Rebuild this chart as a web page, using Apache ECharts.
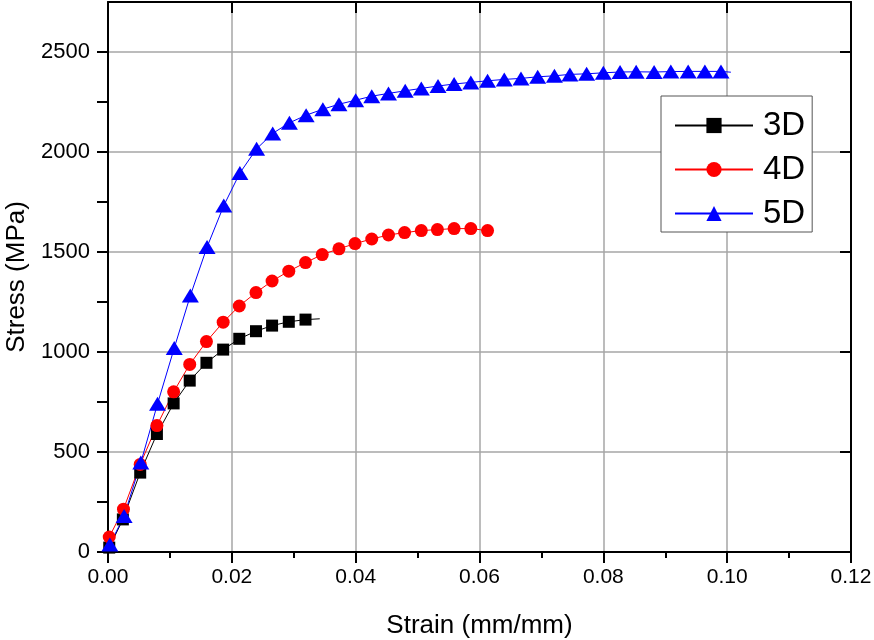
<!DOCTYPE html>
<html>
<head>
<meta charset="utf-8">
<script src="https://cdn.jsdelivr.net/npm/echarts@6/dist/echarts.min.js"></script>
<style>
html,body{margin:0;padding:0;background:#fff;}
#chart{width:874px;height:640px;}
</style>
</head>
<body>
<div id="chart"></div>
<script>
// ---- data ----
const seriesNames = ['3D', '4D', '5D'];

const strain3D = [0.0002, 0.0024, 0.0052, 0.0079, 0.0106, 0.0132, 0.0159, 0.0186, 0.0212, 0.0239, 0.0265, 0.0292, 0.0319, 0.0342];
const stress3D = [22, 163, 397, 590, 743, 857, 946, 1012, 1066, 1104, 1132, 1151, 1162, 1166];
const markerless3D = [13]; // line end without marker

const strain4D = [0.0002, 0.0025, 0.0052, 0.0079, 0.0106, 0.0132, 0.0159, 0.0186, 0.0212, 0.0239, 0.0265, 0.0292, 0.0319, 0.0346, 0.0373, 0.0399, 0.0426, 0.0453, 0.0479, 0.0506, 0.0532, 0.0559, 0.0586, 0.0613];
const stress4D = [75, 214, 438, 632, 801, 938, 1052, 1149, 1230, 1297, 1355, 1404, 1447, 1487, 1516, 1542, 1565, 1585, 1597, 1607, 1612, 1617, 1617, 1607];

const strain5D = [0.0003, 0.0026, 0.0053, 0.0080, 0.0107, 0.0133, 0.0160, 0.0187, 0.0213, 0.0240, 0.0266, 0.0293, 0.0320, 0.0347, 0.0373, 0.0400,
                  0.0426, 0.0453, 0.0480, 0.0506, 0.0533, 0.0559, 0.0586, 0.0613, 0.0640, 0.0667, 0.0694, 0.0721, 0.0746, 0.0773, 0.0800, 0.0827, 0.0853,
                  0.0882, 0.0909, 0.0937, 0.0964, 0.0990, 0.1006];
const stress5D = [38, 180, 447, 741, 1020, 1282, 1525, 1732, 1895, 2016, 2093, 2146, 2184, 2214, 2239, 2259,
                  2279, 2293, 2306, 2318, 2330, 2340, 2348, 2356, 2363, 2368, 2376, 2381, 2388, 2391, 2396, 2400, 2401,
                  2400, 2402, 2403, 2403, 2403, 2399];
const markerless5D = [38];

const xMin = 0, xMax = 0.12, xStep = 0.02;
const yMin = 0, yMax = 2750, yStep = 500, yMinorStep = 250;

const axisTitleX = 'Strain (mm/mm)';
const axisTitleY = 'Stress (MPa)';

// ---- build ----
function pairs(xs, ys, noMarker) {
  return xs.map((x, i) => noMarker && noMarker.indexOf(i) >= 0
    ? { value: [x, ys[i]], symbol: 'none' }
    : [x, ys[i]]);
}

const FONT = "'Liberation Sans', Arial, sans-serif";
const chart = echarts.init(document.getElementById('chart'), null, { renderer: 'canvas' });

const option = {
  animation: false,
  backgroundColor: '#ffffff',
  grid: { left: 108, right: 23, top: 2, bottom: 88, containLabel: false, outerBoundsMode: 'none' },
  legend: {
    orient: 'vertical',
    left: 661, top: 96,
    padding: [13, 7, 2, 13],
    itemGap: 11,
    itemWidth: 78,
    itemHeight: 19,
    borderColor: '#555',
    borderWidth: 1,
    backgroundColor: '#fff',
    textStyle: { fontFamily: FONT, fontSize: 33, color: '#000', lineHeight: 28, padding: [0, 0, 0, 5] },
    data: seriesNames
  },
  xAxis: [{
    type: 'value', min: xMin, max: xMax, interval: xStep,
    position: 'bottom',
    axisLine: { show: true, onZero: false, lineStyle: { color: '#000', width: 2 } },
    axisTick: { show: true, inside: false, length: 11, lineStyle: { color: '#000', width: 2 } },
    minorTick: { show: true, splitNumber: 2, length: 6, lineStyle: { color: '#000', width: 2 } },
    axisLabel: { fontFamily: FONT, fontSize: 21, color: '#000', margin: 15,
      formatter: v => v.toFixed(2) },
    splitLine: { show: true, lineStyle: { color: '#a6a6a6', width: 1.5 } },
    name: axisTitleX, nameLocation: 'middle', nameGap: 61,
    nameTextStyle: { fontFamily: FONT, fontSize: 26, color: '#000' }
  }, {
    type: 'value', min: xMin, max: xMax, interval: xStep,
    position: 'top',
    axisLine: { show: true, onZero: false, lineStyle: { color: '#000', width: 2 } },
    axisTick: { show: true, inside: true, length: 11, lineStyle: { color: '#000', width: 2 } },
    axisLabel: { show: false },
    splitLine: { show: false }
  }],
  yAxis: [{
    type: 'value', min: yMin, max: yMax, interval: yMinorStep,
    position: 'left',
    axisLine: { show: true, onZero: false, lineStyle: { color: '#000', width: 2 } },
    axisTick: { show: true, inside: false, length: 11, lineStyle: { color: '#000', width: 2 } },
    axisLabel: { fontFamily: FONT, fontSize: 22, color: '#000', margin: 18, showMaxLabel: false,
      formatter: v => (v % yStep === 0 ? String(v) : '') },
    splitLine: { show: false },
    name: axisTitleY, nameLocation: 'middle', nameGap: 74,
    nameTextStyle: { fontFamily: FONT, fontSize: 26, color: '#000' }
  }, {
    type: 'value', min: yMin, max: yMax, interval: yStep,
    position: 'right',
    axisLine: { show: true, onZero: false, lineStyle: { color: '#000', width: 2 } },
    axisTick: { show: true, inside: true, length: 11, lineStyle: { color: '#000', width: 2 } },
    axisLabel: { show: false },
    splitLine: { show: true, lineStyle: { color: '#a6a6a6', width: 1.5 } }
  }],
  series: [{
    name: seriesNames[0], type: 'line', xAxisIndex: 0, yAxisIndex: 0,
    data: pairs(strain3D, stress3D, markerless3D),
    symbol: 'rect', symbolSize: 12,
    itemStyle: { color: '#000000' },
    lineStyle: { color: '#000000', width: 1 }
  }, {
    name: seriesNames[1], type: 'line', xAxisIndex: 0, yAxisIndex: 0,
    data: pairs(strain4D, stress4D, null),
    symbol: 'circle', symbolSize: 13,
    itemStyle: { color: '#ff0000' },
    lineStyle: { color: '#ff0000', width: 1 }
  }, {
    name: seriesNames[2], type: 'line', xAxisIndex: 0, yAxisIndex: 0,
    data: pairs(strain5D, stress5D, markerless5D),
    symbol: 'triangle', symbolSize: [17, 14],
    itemStyle: { color: '#0000ff' },
    lineStyle: { color: '#0000ff', width: 1 }
  }]
};
chart.setOption(option);
</script>
</body>
</html>
